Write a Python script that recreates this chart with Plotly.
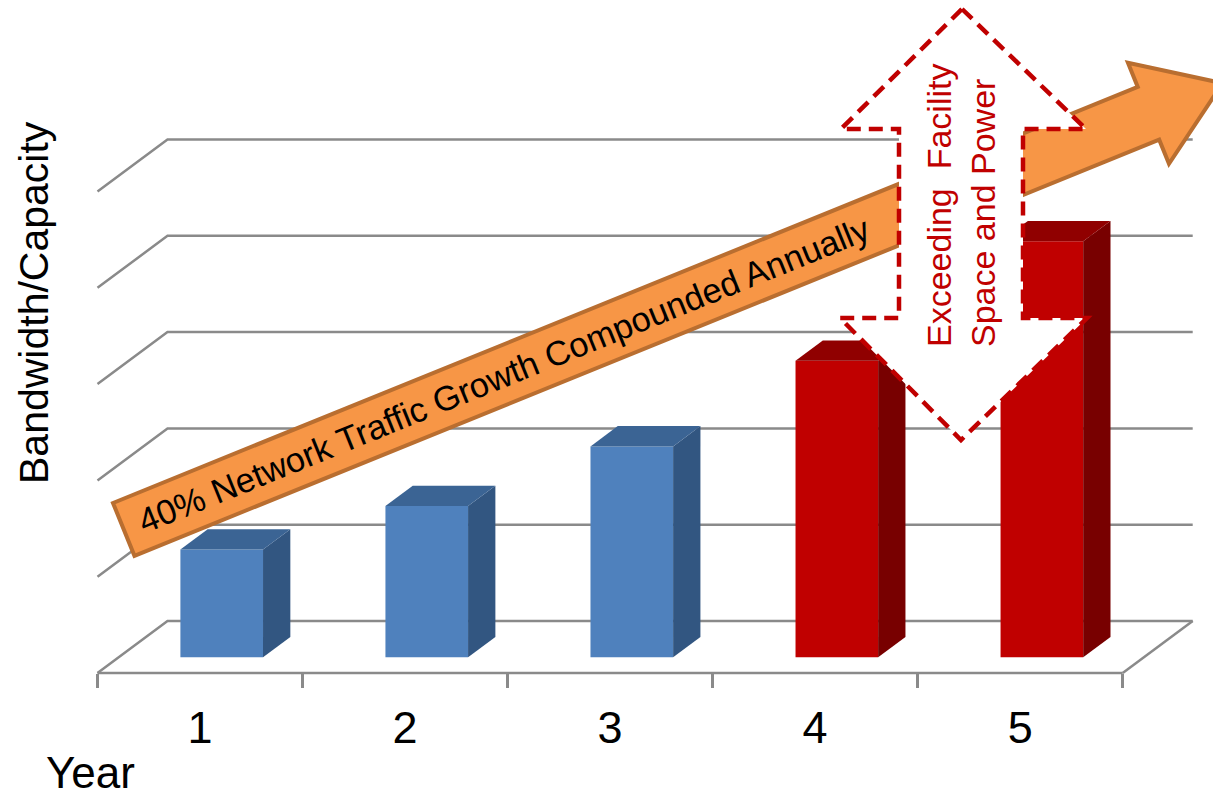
import math
import plotly.graph_objects as go

# ---------------- data ----------------
years = [1, 2, 3, 4, 5]
year_labels = ["1", "2", "3", "4", "5"]
bandwidth = [1.12, 1.57, 2.19, 3.08, 4.32]
gridline_values = [0, 1, 2, 3, 4, 5]

# ---------------- style ----------------
W, H = 1213, 798
FONT = "Arial, Liberation Sans, sans-serif"
front_colors = ["#4F81BD", "#4F81BD", "#4F81BD", "#C00000", "#C00000"]
top_colors = ["#3B6494", "#3B6494", "#3B6494", "#900000", "#900000"]
side_colors = ["#325681", "#325681", "#325681", "#780000", "#780000"]
GRID = "#8A8A8A"

# axis mapping (pixel geometry of the plot)
X_LEFT_PX, CAT_PX = 97.5, 205.04
Y0_PX, UNIT_PX = 657.3, 96.3
x_range = [0.5 - X_LEFT_PX / CAT_PX, 0.5 + (W - X_LEFT_PX) / CAT_PX]
y_range = [-(H - Y0_PX) / UNIT_PX, Y0_PX / UNIT_PX]

# pseudo 3D depth (data units for full depth)
DXU = 70 / CAT_PX
DYU = 52 / UNIT_PX
FLOOR = -(673 - Y0_PX) / UNIT_PX
D0, D1 = 0.31, 0.70
BAR_W = 0.403


def px(xp, yp):
    return xp / W, 1 - yp / H


def paper_path(points):
    pts = [px(a, b) for a, b in points]
    return "M " + " L ".join(f"{a:.5f},{b:.5f}" for a, b in pts) + " Z"


def data_path(points):
    return "M " + " L ".join(f"{a:.5f},{b:.5f}" for a, b in points) + " Z"


fig = go.Figure()

shift = D0 * DXU
fig.add_trace(go.Bar(
    x=years, y=bandwidth, width=BAR_W, offset=shift - BAR_W / 2,
    marker=dict(color=front_colors, line=dict(width=0)),
    hoverinfo="x+y",
))

shapes = []
# walls / floor gridlines (below bars)
for v in gridline_values:
    shapes.append(dict(type="path", xref="x", yref="y", layer="below",
                       path=f"M 0.5,{FLOOR + v} L {0.5 + DXU},{FLOOR + v + DYU} L {5.5 + DXU},{FLOOR + v + DYU}",
                       line=dict(color=GRID, width=2.5)))
# floor front and right edges
shapes.append(dict(type="line", xref="x", yref="y", layer="below",
                   x0=0.5, y0=FLOOR, x1=5.5, y1=FLOOR, line=dict(color=GRID, width=2.5)))
shapes.append(dict(type="line", xref="x", yref="y", layer="below",
                   x0=5.5, y0=FLOOR, x1=5.5 + DXU, y1=FLOOR + DYU, line=dict(color=GRID, width=2.5)))

# 3D faces of bars
ddx = (D1 - D0) * DXU
ddy = (D1 - D0) * DYU
for i, (x, v) in enumerate(zip(years, bandwidth)):
    x0 = x + shift - BAR_W / 2
    x1 = x0 + BAR_W
    shapes.append(dict(type="path", xref="x", yref="y", layer="above",
                       path=data_path([(x1, 0), (x1, v), (x1 + ddx, v + ddy), (x1 + ddx, ddy)]),
                       fillcolor=side_colors[i], line=dict(width=0)))
    shapes.append(dict(type="path", xref="x", yref="y", layer="above",
                       path=data_path([(x0, v), (x1, v), (x1 + ddx, v + ddy), (x0 + ddx, v + ddy)]),
                       fillcolor=top_colors[i], line=dict(width=0)))

# orange growth arrow (annotation graphic, pixel geometry)
ang = math.radians(22.1)
u = (math.cos(ang), -math.sin(ang))
n = (math.sin(ang), math.cos(ang))
tail = (113, 503)
SW, HW, TN, TL = 57, 26, 1106, 80


def P(t, s):
    return (tail[0] + t * u[0] + s * n[0], tail[1] + t * u[1] + s * n[1])


arrow = [P(0, 0), P(TN, 0), P(TN, -HW), P(TN + TL, SW / 2), P(TN, SW + HW), P(TN, SW), P(0, SW)]
shapes.append(dict(type="path", xref="paper", yref="paper", layer="above",
                   path=paper_path(arrow), fillcolor="#F79646",
                   line=dict(color="#B96E30", width=4)))

# red dashed double arrow
dbl = [(962, 9), (1086, 129), (1023, 129), (1023, 318), (1087, 318), (961, 440),
       (840, 318), (899, 318), (899, 129), (841, 129)]
shapes.append(dict(type="path", xref="paper", yref="paper", layer="above",
                   path=paper_path(dbl), fillcolor="white",
                   line=dict(color="#C00000", width=4.5, dash="14px,8px")))

annotations = []
ax, ay = P(410, SW / 2)
annotations.append(dict(xref="paper", yref="paper", x=ax / W, y=1 - ay / H,
                        text="40% Network Traffic Growth Compounded Annually",
                        textangle=-22.1, showarrow=False, xanchor="center", yanchor="middle",
                        font=dict(family=FONT, size=34.5, color="black")))
annotations.append(dict(xref="paper", yref="paper", x=961 / W, y=1 - 206 / H,
                        text="Exceeding\u00a0 Facility<br>Space and Power", align="left",
                        textangle=-90, showarrow=False, xanchor="center", yanchor="middle",
                        font=dict(family=FONT, size=34, color="#C00000")))
annotations.append(dict(xref="paper", yref="paper", x=34 / W, y=1 - 303 / H,
                        text="Bandwidth/Capacity", textangle=-90, showarrow=False,
                        xanchor="center", yanchor="middle",
                        font=dict(family=FONT, size=41, color="black")))
annotations.append(dict(xref="paper", yref="paper", x=45 / W, y=0,
                        text="Year", showarrow=False, xanchor="left", yanchor="bottom",
                        borderpad=0,
                        font=dict(family=FONT, size=44, color="black")))

fig.update_layout(
    width=W, height=H, margin=dict(l=0, r=0, t=0, b=0),
    paper_bgcolor="white", plot_bgcolor="white", showlegend=False,
    shapes=shapes, annotations=annotations,
    xaxis=dict(domain=[0, 1], range=x_range, anchor="free", position=1 - 673 / H,
               tickvals=years, ticktext=year_labels, ticks="", ticklabelstandoff=24,
               tickfont=dict(family=FONT, size=45, color="black"),
               showgrid=False, zeroline=False, showline=False,
               minor=dict(tickvals=[0.5, 1.5, 2.5, 3.5, 4.5, 5.5], ticks="outside",
                          ticklen=14, tickwidth=2.5, tickcolor=GRID, showgrid=False)),
    yaxis=dict(domain=[0, 1], range=y_range, visible=False),
)

fig.write_html(
    "out.html",
    config={"displayModeBar": False},
    post_script="document.body.style.margin='0';document.body.style.overflow='hidden';",
)
